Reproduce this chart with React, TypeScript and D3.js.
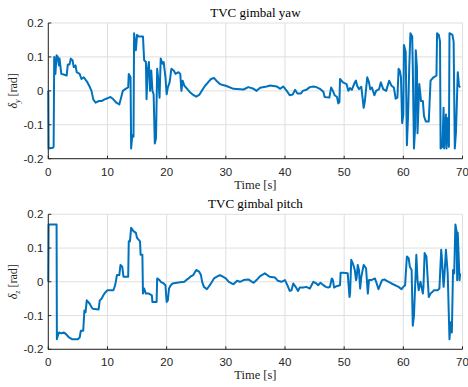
import React from "react";
import * as d3 from "d3";

const xTicks = [0, 10, 20, 30, 40, 50, 60, 70];
const yTicks = [-0.2, -0.1, 0, 0.1, 0.2];
const yTickLabels = ["-0.2", "-0.1", "0", "0.1", "0.2"];

const yawTime = [
  0, 0.05, 0.8, 0.9, 1.0, 1.2, 1.4, 1.6, 1.8, 1.9, 2.2, 2.6, 3.1, 3.3, 3.6, 3.8, 4.1, 4.3, 4.6, 4.8,
  5.3, 5.6, 6.0, 6.5, 7.0, 7.3, 7.6, 8.0, 8.5, 9.0, 9.5, 10.0, 10.5, 11.0, 11.5, 12.0, 12.3, 12.6, 13.0, 13.5,
  13.6, 13.9, 14.0, 14.2, 14.4, 14.5, 14.8, 15.0, 15.3, 16.0, 16.2, 16.5, 16.6, 16.8, 17.0, 17.2, 17.4, 17.6, 17.8, 18.0,
  18.2, 18.4, 18.6, 18.8, 19.0, 19.3, 19.5, 19.8, 20.0, 20.2, 20.5, 20.8, 21.2, 21.5, 22.0, 22.3, 22.5, 22.7, 23.0, 23.5,
  24.0, 24.5, 25.0, 25.5, 26.0, 26.5, 27.0, 27.5, 28.0, 28.5, 29.0, 29.5, 30.0, 31.3, 33.0, 33.8, 34.7, 35.2, 35.8, 36.9,
  37.5, 38.6, 39.2, 39.7, 40.3, 40.8, 41.3, 41.7, 42.1, 42.7, 43.0, 43.6, 44.2, 44.8, 45.3, 45.9, 46.5, 46.7, 47.5, 47.8,
  48.1, 48.4, 48.8, 49.0, 49.2, 49.3, 49.8, 50.4, 50.7, 51.0, 51.3, 51.8, 52.0, 52.2, 52.5, 52.9, 53.3, 53.5, 53.9, 54.2,
  54.4, 54.7, 55.1, 55.4, 55.9, 56.2, 56.6, 57.1, 57.6, 58.0, 58.4, 58.7, 59.0, 59.2, 59.4, 59.6, 59.8, 60.0, 60.1, 60.4,
  60.6, 60.8, 61.0, 61.2, 61.5, 61.6, 61.8, 62.0, 62.1, 62.3, 62.4, 62.7, 63.0, 63.3, 63.5, 63.8, 64.3, 64.6, 65.1, 65.6,
  65.7, 66.0, 66.2, 66.3, 66.6, 66.8, 66.9, 67.2, 67.3, 67.4, 67.7, 67.8, 68.3, 68.5, 68.7, 68.9, 69.2, 69.4, 69.6,
];
const yawValue = [
  0, -0.17, -0.168, -0.165, 0.1, 0.05, 0.105, 0.1, 0.075, 0.095, 0.05, 0.048, 0.045, 0.078, 0.078, 0.095, 0.09, 0.07, 0.075, 0.055,
  0.05, 0.035, 0.04, 0.028, 0.012, 0.0, -0.025, -0.035, -0.03, -0.03, -0.025, -0.022, -0.018, -0.025, -0.035, -0.04, -0.02, 0.0, 0.005, 0.01,
  0.05, 0.04, -0.17, -0.13, -0.135, 0.17, 0.12, 0.165, 0.16, 0.16, 0.09, 0.085, -0.025, 0.06, 0.085, 0.0, 0.06, 0.0, -0.01, -0.155,
  -0.14, 0.065, 0.03, -0.02, 0.095, 0.08, 0.085, 0.04, -0.01, 0.01, 0.025, 0.065, 0.06, 0.05, 0.055, 0.05, 0.0, 0.03, 0.015, 0.005,
  -0.005, -0.012, -0.017, -0.012, 0.002, 0.015, 0.025, 0.035, 0.038, 0.028, 0.02, 0.017, 0.015, 0.006, 0.004, 0.011, 0.006, 0.0, 0.009, 0.013,
  0.016, 0.013, 0.006, 0.013, 0.0, -0.013, -0.011, 0.003, -0.008, -0.008, 0.0, 0.003, 0.011, 0.013, 0.011, 0.006, -0.003, -0.018, -0.02, 0.01,
  0.0, -0.013, -0.018, -0.037, -0.033, 0.035, 0.025, 0.02, 0.0, 0.008, 0.003, 0.025, 0.03, 0.015, 0.005, 0.012, -0.05, -0.03, 0.04, 0.025,
  0.005, 0.01, -0.013, 0.0, 0.005, 0.025, 0.005, 0.0, 0.03, 0.015, 0.01, -0.023, -0.02, 0.065, 0.06, 0.04, -0.095, -0.07, 0.135, 0.115,
  -0.16, -0.075, 0.07, 0.17, 0.16, 0.07, -0.17, -0.105, 0.12, 0.07, -0.125, 0.02, -0.03, -0.03, -0.075, -0.09, -0.09, 0.03, 0.04, 0.045,
  0.17, 0.165, 0.145, -0.17, -0.165, -0.05, -0.17, -0.07, -0.17, -0.08, -0.165, 0.17, 0.165, 0.145, -0.17, -0.12, 0.055, 0.015, 0.01,
];

const pitchTime = [
  0, 0.05, 1.4, 1.45, 1.6, 1.8, 2.2, 2.6, 3.0, 3.5, 4.0, 5.0, 5.3, 5.5, 5.9, 6.1, 6.3, 6.5, 7.0, 7.3,
  7.5, 8.5, 8.7, 9.0, 9.3, 9.7, 10.0, 11.0, 11.3, 11.6, 12.0, 12.2, 12.5, 12.7, 13.5, 13.6, 13.8, 14.0, 14.4, 14.8,
  15.0, 15.5, 15.6, 15.9, 16.0, 16.2, 16.5, 17.0, 17.5, 17.6, 18.3, 18.4, 18.8, 19.0, 19.5, 19.8, 20.0, 20.2, 20.4, 20.7,
  21.0, 22.0, 23.0, 23.3, 23.7, 24.0, 24.5, 25.0, 25.5, 25.8, 26.0, 26.3, 26.8, 27.3, 28.0, 28.5, 29.0, 29.5, 30.0, 30.5,
  31.0, 31.3, 31.9, 32.4, 33.0, 33.8, 34.7, 35.2, 35.8, 36.6, 37.4, 38.3, 38.8, 39.4, 40.0, 40.4, 40.8, 41.1, 41.4, 41.8,
  42.2, 42.5, 43.1, 43.6, 44.2, 44.8, 45.3, 45.6, 46.0, 46.5, 46.9, 47.3, 47.6, 47.9, 48.1, 48.3, 48.7, 49.3, 49.4, 49.8,
  50.6, 50.9, 51.0, 51.2, 51.5, 51.8, 52.0, 52.1, 52.3, 52.5, 52.7, 52.9, 53.3, 53.7, 54.0, 54.2, 54.6, 55.2, 55.5, 55.8,
  56.0, 56.4, 56.8, 57.2, 58.0, 59.2, 59.7, 60.0, 60.3, 60.6, 60.9, 61.1, 61.4, 61.6, 61.8, 62.1, 62.2, 62.4, 62.6, 62.9,
  63.3, 63.4, 63.6, 63.9, 64.3, 64.6, 65.2, 65.8, 66.1, 66.4, 66.5, 66.8, 66.9, 67.2, 67.5, 67.8, 68.0, 68.2, 68.4, 68.6,
  68.8, 69.0, 69.1, 69.2, 69.5, 69.6,
];
const pitchValue = [
  0, 0.17, 0.17, -0.17, -0.16, -0.15, -0.153, -0.15, -0.155, -0.165, -0.17, -0.17, -0.165, -0.145, -0.145, -0.085, -0.09, -0.055, -0.065, -0.075,
  -0.08, -0.082, -0.055, -0.05, -0.04, -0.03, -0.025, -0.025, -0.01, 0.02, 0.02, 0.05, 0.045, 0.015, 0.015, 0.12, 0.12, 0.16, 0.15, 0.145,
  0.13, 0.12, 0.08, 0.08, -0.035, -0.02, -0.035, -0.035, -0.04, -0.06, -0.06, 0.01, 0.005, 0.0, -0.005, -0.01, -0.06, -0.055, -0.02, -0.01,
  -0.005, -0.002, 0.0, 0.005, 0.01, 0.015, 0.02, 0.035, 0.03, 0.02, 0.0, -0.015, -0.022, -0.01, 0.01, 0.015, 0.02, 0.015, 0.01, 0.0,
  -0.005, -0.007, 0.003, 0.0, 0.005, 0.007, -0.003, 0.005, 0.017, 0.025, 0.015, 0.013, 0.003, 0.0, 0.005, -0.01, -0.027, -0.025, -0.005, -0.015,
  -0.027, -0.017, -0.017, -0.015, -0.02, 0.0, -0.005, -0.01, -0.003, -0.01, -0.015, -0.017, -0.015, 0.01, 0.005, -0.017, -0.013, -0.01, 0.027, 0.027,
  0.025, -0.045, -0.035, 0.065, 0.053, 0.035, 0.005, 0.01, 0.05, 0.035, -0.02, 0.015, 0.05, 0.04, -0.035, 0.005, 0.005, 0.01, -0.005, -0.022,
  -0.013, 0.005, 0.007, 0.003, -0.005, -0.015, -0.022, -0.015, -0.01, 0.075, 0.07, 0.045, 0.035, -0.13, -0.1, 0.035, 0.08, 0.005, -0.025, 0.0,
  -0.035, -0.015, 0.085, 0.075, -0.045, -0.035, -0.025, -0.025, -0.02, 0.095, 0.075, -0.015, 0.005, 0.095, 0.025, -0.17, -0.12, -0.15, 0.035, 0.025,
  0.17, 0.15, 0.005, 0.145, 0.005, 0.025,
];

const W = 468;
const H = 387;
const LEFT = 48.3;
const RIGHT = 462.5;
const AXIS = "#262626";
const GRID = "#dfdfdf";
const LINE = "#0072BD";

type PanelProps = {
  top: number;
  bottom: number;
  title: string;
  sub: string;
  time: number[];
  value: number[];
};

function Panel({ top, bottom, title, sub, time, value }: PanelProps) {
  const x = d3.scaleLinear().domain([0, 70]).range([LEFT, RIGHT]);
  const y = d3.scaleLinear().domain([-0.2, 0.2]).range([bottom, top]);
  const pts: [number, number][] = time.map((t, i) => [t, value[i]]);
  const line = d3
    .line<[number, number]>()
    .x((d) => x(d[0]))
    .y((d) => y(d[1]));
  const midY = (top + bottom) / 2;
  return (
    <g>
      {xTicks.map((t) => (
        <line key={"gx" + t} x1={x(t)} x2={x(t)} y1={top} y2={bottom} stroke={GRID} strokeWidth={1} />
      ))}
      {yTicks.map((t) => (
        <line key={"gy" + t} x1={LEFT} x2={RIGHT} y1={y(t)} y2={y(t)} stroke={GRID} strokeWidth={1} />
      ))}
      <path d={line(pts) || ""} fill="none" stroke={LINE} strokeWidth={2} strokeLinejoin="round" />
      <line x1={LEFT} x2={LEFT} y1={top} y2={bottom} stroke={AXIS} strokeWidth={1} />
      <line x1={LEFT} x2={RIGHT} y1={bottom} y2={bottom} stroke={AXIS} strokeWidth={1} />
      {xTicks.map((t) => (
        <g key={"xt" + t}>
          <line x1={x(t)} x2={x(t)} y1={bottom} y2={bottom - 3} stroke={AXIS} strokeWidth={1} />
          <text
            x={x(t)}
            y={bottom + 17}
            textAnchor="middle"
            fontFamily="'Liberation Sans', Arial, sans-serif"
            fontSize={11.5}
            fill={AXIS}
          >
            {t}
          </text>
        </g>
      ))}
      {yTicks.map((t, i) => (
        <g key={"yt" + t}>
          <line x1={LEFT} x2={LEFT + 3} y1={y(t)} y2={y(t)} stroke={AXIS} strokeWidth={1} />
          <text
            x={LEFT - 5}
            y={y(t) + 4}
            textAnchor="end"
            fontFamily="'Liberation Sans', Arial, sans-serif"
            fontSize={11.5}
            fill={AXIS}
          >
            {yTickLabels[i]}
          </text>
        </g>
      ))}
      <text
        x={(LEFT + RIGHT) / 2}
        y={top - 6}
        textAnchor="middle"
        fontFamily="'Liberation Serif', 'Times New Roman', serif"
        fontSize={13}
        fill="#000"
      >
        {title}
      </text>
      <text
        x={(LEFT + RIGHT) / 2}
        y={bottom + 30}
        textAnchor="middle"
        fontFamily="'Liberation Serif', 'Times New Roman', serif"
        fontSize={12.5}
        fill={AXIS}
      >
        Time [s]
      </text>
      <text
        transform={`translate(17,${midY}) rotate(-90)`}
        textAnchor="middle"
        fontFamily="'Liberation Serif', 'Times New Roman', serif"
        fontSize={12}
        fill={AXIS}
      >
        <tspan fontStyle="italic">δ</tspan>
        <tspan fontStyle="italic" fontSize={8} dy={3}>
          {sub}
        </tspan>
        <tspan dy={-3}> [rad]</tspan>
      </text>
    </g>
  );
}

export default function App() {
  return (
    <svg
      width={W}
      height={H}
      style={{ position: "absolute", left: 0, top: 0, background: "#fff" }}
    >
      <rect x={0} y={0} width={W} height={H} fill="#fff" />
      <Panel top={23} bottom={158.7} title="TVC gimbal yaw" sub="y" time={yawTime} value={yawValue} />
      <Panel top={214.3} bottom={349.3} title="TVC gimbal pitch" sub="z" time={pitchTime} value={pitchValue} />
    </svg>
  );
}
